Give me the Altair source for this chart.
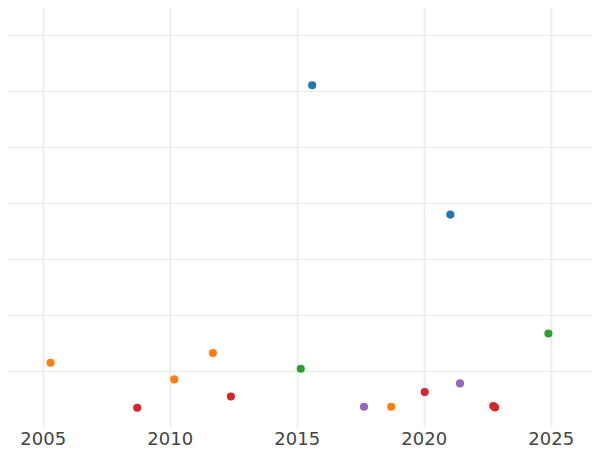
import altair as alt
import pandas as pd

# Data (y in gridline units)
years = [2015.61, 2021.05, 2024.91, 2015.16, 2005.31, 2010.18, 2011.70, 2018.72,
         2008.72, 2012.41, 2020.04, 2022.74, 2022.81, 2017.65, 2021.43]
values = [6.107, 3.796, 1.671, 1.041, 1.148, 0.850, 1.321, 0.362,
          0.345, 0.546, 0.625, 0.375, 0.350, 0.362, 0.779]
groups = ["A", "A", "B", "B", "C", "C", "C", "C",
          "D", "D", "D", "D", "D", "E", "E"]

group_names = ["A", "B", "C", "D", "E"]
group_colors = ["#1f77b4", "#2ca02c", "#ff7f0e", "#d62728", "#9467bd"]
x_ticks = [2005, 2010, 2015, 2020, 2025]
y_ticks = [1, 2, 3, 4, 5, 6, 7]

df = pd.DataFrame({"year": years, "value": values, "group": groups})

chart = alt.Chart(df).mark_circle(size=66, opacity=1).encode(
    x=alt.X("year:Q",
            scale=alt.Scale(domain=[2003.634, 2026.626], nice=False, zero=False),
            axis=alt.Axis(values=x_ticks, format="d", title=None, ticks=False,
                          tickSize=0, domain=False, labelFontSize=18,
                          labelFont="DejaVu Sans", labelColor="#444444",
                          labelPadding=3, gridColor="#ebebeb", gridWidth=1.8)),
    y=alt.Y("value:Q",
            scale=alt.Scale(domain=[0, 7.4875], nice=False, zero=True),
            axis=alt.Axis(values=y_ticks, labels=False, ticks=False, domain=False,
                          title=None, gridColor="#ebebeb", gridWidth=1)),
    color=alt.Color("group:N",
                    scale=alt.Scale(domain=group_names, range=group_colors),
                    legend=None),
).properties(
    width=584,
    height=419,
    padding={"left": 0, "top": 0, "right": 0, "bottom": 0},
).configure_view(stroke=None)

chart.save("out.html", embed_options={"renderer": "svg", "actions": False})
